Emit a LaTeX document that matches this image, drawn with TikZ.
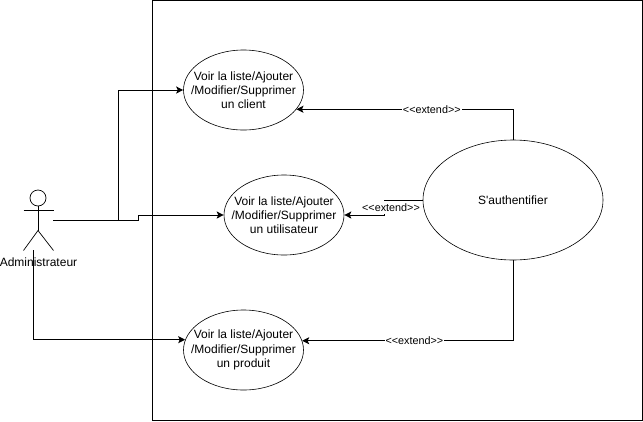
\documentclass[tikz,border=0pt]{standalone}
\usepackage{fontspec}
\setmainfont[Ligatures=TeXOff]{Liberation Sans}
\usetikzlibrary{shapes.geometric, arrows.meta}
\tikzstyle{usecase} = [ellipse, minimum width=120pt, minimum height=80pt, inner xsep=-15pt, inner ysep=0pt, align=center, draw=black, line width=0.6pt, font=\fontsize{12}{14.2}\selectfont]
\tikzstyle{authcase} = [usecase, minimum width=180pt, minimum height=120pt]
\tikzstyle{extendlabel} = [fill=white, inner sep=1pt, minimum height=13pt, font=\fontsize{10.8}{12}\selectfont]
\tikzstyle{actorname} = [inner sep=0pt, font=\fontsize{12}{14.4}\selectfont]
\tikzstyle{arrow} = [line width=1pt,->,>={Stealth[length=7pt,width=7pt,inset=1.5pt]}]
\tikzstyle{line} = [line width=1pt]
\tikzstyle{actorline} = [line width=0.7pt]

\begin{document}
\begin{tikzpicture}[x=1pt, y=-1pt]
  \useasboundingbox (0,0) rectangle (643,421);
  \draw [line] (152.5,0.5) rectangle (642.5,420.5);
  \node (client) [usecase] at (243.5,90) {Voir la liste/Ajouter\\/Modifier/Supprimer\\un client};
  \node (user) [usecase] at (284,215) {Voir la liste/Ajouter\\/Modifier/Supprimer\\un utilisateur};
  \node (product) [usecase] at (243.5,350) {Voir la liste/Ajouter\\/Modifier/Supprimer\\un produit};
  \node (auth) [authcase] at (513,200) {S'authentifier};
  % actor
  \node (head) [circle, draw=black, actorline, minimum size=16pt, inner sep=0pt] at (38,198) {};
  \node (admin) [actorname] at (38.5,262.5) {Administrateur};
  \coordinate (hip) at (38,230.5);
  \coordinate (hand) at (53,220.5);
  \coordinate (foot) at (33.5,250);
  \draw [actorline] (head.south) -- (hip);
  \draw [actorline] (23.5,210.5) -- (53.5,210.5);
  \draw [actorline] (23.5,250.5) -- (hip) -- (53.5,250.5);
  % connectors
  \draw [arrow] (hand) -- (118.5,220.5) |- (client.west);
  \draw [arrow] (hand) -- (138.5,220.5) |- (user.west);
  \draw [arrow] (foot) |- (product.170.2);
  \draw [arrow] (auth.north) |- node [extendlabel, pos=0.6875] {<<extend>>} (client.-20.7);
  \draw [arrow] (auth.west) -- (384,200) |- node [extendlabel, pos=0.25, xshift=7pt] {<<extend>>} (user.east);
  \draw [arrow] (auth.south) |- node [extendlabel, pos=0.734] {<<extend>>} (product.9.8);
\end{tikzpicture}
\end{document}
